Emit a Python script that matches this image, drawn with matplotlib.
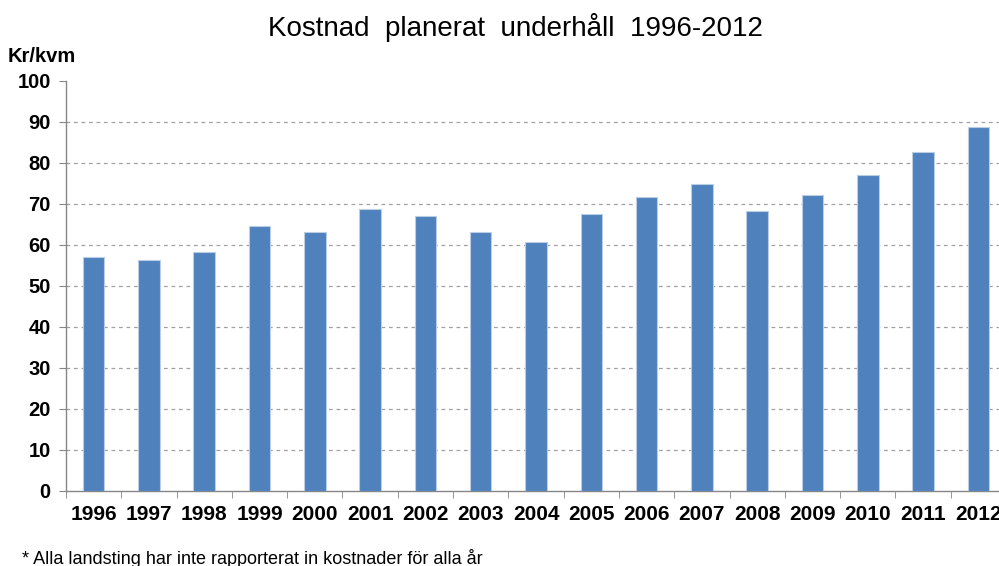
import matplotlib
matplotlib.use("Agg")
from matplotlib import pyplot as plt
import numpy as np

# Kostnad per kvadratmeter, planerat underhåll
years = ['1996', '1997', '1998', '1999', '2000', '2001', '2002', '2003', '2004',
         '2005', '2006', '2007', '2008', '2009', '2010', '2011', '2012']
cost = [57.1, 56.3, 58.3, 64.6, 63.1, 68.7, 67.0, 63.1, 60.7,
        67.4, 71.6, 74.8, 68.2, 72.1, 77.0, 82.5, 88.6]
yticks = list(range(0, 101, 10))

plt.rcParams['font.family'] = ['Liberation Sans', 'DejaVu Sans']

fig = plt.figure(figsize=(9.99, 5.66), dpi=100)
W, H = 999.0, 566.0
ax = fig.add_axes([66 / W, (H - 490.7) / H, 940 / W, 410 / H])

x = np.arange(len(years))
ax.bar(x, cost, width=0.39, color='#4F81BD', edgecolor='#B9CDE5', linewidth=0.8, zorder=3)

ax.set_xlim(-0.5, len(years) - 0.5)
ax.set_ylim(0, 100)
ax.set_yticks(yticks)
ax.set_yticklabels([str(t) for t in yticks], fontsize=14.5, fontweight='bold')
ax.set_xticks(x)
ax.set_xticklabels(years, fontsize=15, fontweight='bold')

# tick marks sit between the categories
ax.set_xticks(np.arange(-0.5, len(years), 1.0), minor=True)
ax.tick_params(axis='x', which='major', length=0, pad=10)
ax.tick_params(axis='x', which='minor', length=5, color='#868686', direction='out')
ax.tick_params(axis='y', length=5, color='#868686', direction='out', pad=6)

for t in yticks[1:-1]:
    ax.axhline(t, color='#A0A0A0', linestyle=(0, (3, 3)), linewidth=0.9, zorder=1)

for side in ['top', 'right']:
    ax.spines[side].set_visible(False)
for side in ['left', 'bottom']:
    ax.spines[side].set_color('#868686')
    ax.spines[side].set_linewidth(1.0)

fig.text(515 / W, 1 - 28 / H, 'Kostnad  planerat  underhåll  1996-2012',
         ha='center', va='center', fontsize=20)
fig.text(8 / W, 1 - 56 / H, 'Kr/kvm', ha='left', va='center',
         fontsize=14.5, fontweight='bold')
fig.text(22 / W, 1 - 559 / H,
         '* Alla landsting har inte rapporterat in kostnader för alla år',
         ha='left', va='center', fontsize=13)

fig.savefig('out.png', dpi=100)
